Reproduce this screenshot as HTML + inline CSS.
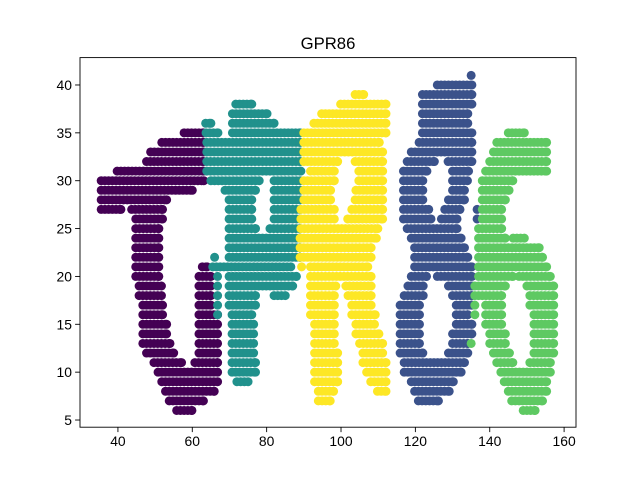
<!DOCTYPE html>
<html><head><meta charset="utf-8"><style>
html,body{margin:0;padding:0;background:#fff;}
svg{display:block;font-family:"Liberation Sans","DejaVu Sans",sans-serif;}
</style></head><body>
<svg id="chart" width="640" height="480" viewBox="0 0 640 480">
<rect width="640" height="480" fill="#fff"/>
<text x="328" y="49" text-anchor="middle" font-size="16.7">GPR86</text>
<g id="marks"></g>
<g id="axes"></g>
</svg>
<script>
// row runs: [y, x0, x1, x0, x1, ...]
const seriesNames = ['G', 'P', 'R', '8', '6'];
const seriesColors = ['#440154', '#21918c', '#fde725', '#3b528b', '#5ec962'];
const xTicks = [40, 60, 80, 100, 120, 140, 160];
const yTicks = [5, 10, 15, 20, 25, 30, 35, 40];
const runsG = [[35,57.8,63],[34,51.8,63],[33,48.8,63],[32,47.7,63],[31,39.8,63],[30,35.5,63.1],[29,35.5,60],[28,35.5,53.1],[27,35.5,40.8,43.7,52],[26,44.8,52],[25,44.8,51],[24,44.8,51],[23,44.8,51],[22,44.8,51],[21,44.8,51,62.7,64],[20,44.8,51,61.8,65],[19,45.7,51.7,61.8,65],[18,45.7,51.7,61.8,65],[17,46.7,52,61.8,65],[16,46.7,52,61.8,66.8],[15,46.7,53.1,61.8,66.8],[14,46.7,53.1,61.8,66.8],[13,46.7,54,61.8,66.8],[12,47.7,55,61.8,66.8],[11,49.7,57.1,60.7,66.8],[10,50.8,66.8],[9,51.8,66.8],[8,52.8,65.9],[7,53.8,63],[6,55.8,59.9]];
const runsP = [[38,71.7,76],[37,70.8,80.1],[36,63.6,65,70.8,82],[35,63.7,66.9,70.8,89],[34,63.9,89],[33,63.9,89],[32,63.9,89],[31,63.9,89.2],[30,65,78,82,89],[29,68.8,77,82,89],[28,69.9,76,82,89],[27,69.9,76,82,89],[26,69.9,76,82,89],[25,69.9,77,80.9,89],[24,69.9,89],[23,69.9,89],[22,66,66,69.9,89],[21,65.5,86.5],[20,66.8,66.8,69.9,88],[19,66.8,66.8,69.9,87],[18,66.8,66.8,69.9,77,82,85],[17,66.8,66.8,69.9,77],[16,66.8,66.8,70.7,76],[15,70.7,76.5],[14,70.7,76.5],[13,70.7,76.5],[12,70.7,76.5],[11,70.7,77],[10,70.7,77],[9,72,75]];
const runsR = [[39,103.8,106.1],[38,99.9,112.1],[37,94.8,112.1],[36,92.7,112.1],[35,90,112.1],[34,90,110.3],[33,90,111.2],[32,90,99.1,103.8,111.2],[31,91.8,98.2,104.8,111.2],[30,90,98.2,104.8,111.2],[29,90,97.2,104,111.2],[28,90,97.2,103.8,111.2],[27,89.2,98.2,102.9,111.2],[26,89.2,98.2,101.8,111.2],[25,89.2,109.9],[24,89,109.5],[23,89,108.1],[22,89,108.1],[21,89.4,89.4,91.8,107.2],[20,91.8,108.1],[19,91.8,98.6,101.3,108.1],[18,91.8,98.2,101.9,108.1],[17,91.8,98.2,102.9,108.1],[16,91.8,98.2,102.9,109.2],[15,92.9,98.2,104,109],[14,92.9,98.2,104,110.2],[13,92.9,98.2,105,111.2],[12,92.9,99.1,105.9,111.2],[11,92.9,99.1,105.9,112.1],[10,92.9,99.1,106.9,112.1],[9,92.9,99.1,108,112.1],[8,93.9,98,109.8,112.1],[7,93.9,97.1]];
const runs8 = [[41,135,135],[40,125.9,135.2],[39,121.9,135.2],[38,121.9,135.2],[37,121.9,134.1],[36,121.9,134.1],[35,121.9,135.2],[34,121,135.2],[33,118.9,135.2],[32,117.8,125.1,128.8,135.2],[31,116.8,123.1,130,134.3],[30,116.8,122,130,134],[29,116.8,122,130,133.2],[28,116.8,122,128.9,133.2],[27,116.8,123.6,127.9,132,136.6,136.6],[26,116.8,124.2,127,131.2,136.6,136.6],[25,117.8,131.2],[24,118.9,132.3],[23,119.8,133.2],[22,119.8,134.1],[21,119.8,135.2],[20,118.9,123,125.9,135.2],[19,118,122.1,128.9,135.2],[18,117,122.1,130,135.2],[17,115.9,121.1,131,135.2],[16,115.9,121.1,131,134.1],[15,115.9,121.1,131,135.2],[14,115.9,121.1,130,135.2],[13,115.9,121.1,130,134.1],[12,115.9,122,128.9,134.1],[11,117,133.2],[10,117,132.3],[9,118.9,130.2],[8,119.8,129.1],[7,120.8,126.2]];
const runs6 = [[35,145,149.3],[34,141.9,155.3],[33,141,155.3],[32,140,155.3],[31,138.9,155.3],[30,138,146.2],[29,138,145.2],[28,138,144.2],[27,138,143.2],[26,138,143.2],[25,137,143.2],[24,137,144.2,146.3,149.3],[23,137,153.3],[22,137,154.2],[21,137,155.3],[20,137,146.2,147.9,156.3],[19,136,144.2,150,157.2],[18,136,143.2,150.8,157.2],[17,136,136,138.9,143.2,150.8,157.2],[16,136,136,138.9,143.2,151.9,157.2],[15,138.9,143.2,151.9,157.2],[14,140,144.2,151.9,157.2],[13,135,135,140,144.2,151.9,157.2],[12,141,145.3,151.9,157.2],[11,141.9,146.2,150.8,156.3],[10,143,156.3],[9,143.9,155.3],[8,145,155.3],[7,145.9,154.2],[6,149,152.2]];
const allRuns = [runsG, runsP, runsR, runs8, runs6];

const NS = 'http://www.w3.org/2000/svg';
const L = 80, R = 576, T = 57.6, B = 427.2;
const xMin = 29.8, xMax = 163.2, yMin = 4.25, yMax = 42.86;
const sx = v => L + (v - xMin) / (xMax - xMin) * (R - L);
const sy = v => B - (v - yMin) / (yMax - yMin) * (B - T);

const marks = document.getElementById('marks');
allRuns.forEach((runs, si) => {
  const g = document.createElementNS(NS, 'g');
  
  
  g.setAttribute('fill', seriesColors[si]);
  runs.forEach(row => {
    const y = row[0];
    for (let k = 1; k < row.length; k += 2) {
      const a = row[k], b = row[k + 1];
      const xs = [];
      for (let x = a; x < b; x += 1) xs.push(x);
      xs.push(b);
      xs.forEach(x => {
        const c = document.createElementNS(NS, 'circle');
        
        
        c.setAttribute('cx', sx(x).toFixed(2));
        c.setAttribute('cy', sy(y).toFixed(2));
        c.setAttribute('r', 4.5);
        g.appendChild(c);
      });
    }
  });
  marks.appendChild(g);
});

const axes = document.getElementById('axes');
const frame = document.createElementNS(NS, 'rect');


frame.setAttribute('x', L); frame.setAttribute('y', T);
frame.setAttribute('width', R - L); frame.setAttribute('height', B - T);
frame.setAttribute('fill', 'none'); frame.setAttribute('stroke', '#000'); frame.setAttribute('stroke-width', 0.9);
axes.appendChild(frame);
xTicks.forEach(t => {
  const x = sx(t);
  const ln = document.createElementNS(NS, 'line');
  
  
  ln.setAttribute('x1', x); ln.setAttribute('x2', x); ln.setAttribute('y1', B); ln.setAttribute('y2', B + 4.9);
  ln.setAttribute('stroke', '#000'); ln.setAttribute('stroke-width', 0.9);
  axes.appendChild(ln);
  const tx = document.createElementNS(NS, 'text');
  
  
  tx.setAttribute('x', x); tx.setAttribute('y', B + 19);
  tx.setAttribute('text-anchor', 'middle'); tx.setAttribute('font-size', 13.9);
  tx.textContent = t;
  axes.appendChild(tx);
});
yTicks.forEach(t => {
  const y = sy(t);
  const ln = document.createElementNS(NS, 'line');
  
  
  ln.setAttribute('x1', L - 4.9); ln.setAttribute('x2', L); ln.setAttribute('y1', y); ln.setAttribute('y2', y);
  ln.setAttribute('stroke', '#000'); ln.setAttribute('stroke-width', 0.9);
  axes.appendChild(ln);
  const tx = document.createElementNS(NS, 'text');
  
  
  tx.setAttribute('x', L - 8); tx.setAttribute('y', y + 5);
  tx.setAttribute('text-anchor', 'end'); tx.setAttribute('font-size', 13.9);
  tx.textContent = t;
  axes.appendChild(tx);
});
</script>
</body></html>
